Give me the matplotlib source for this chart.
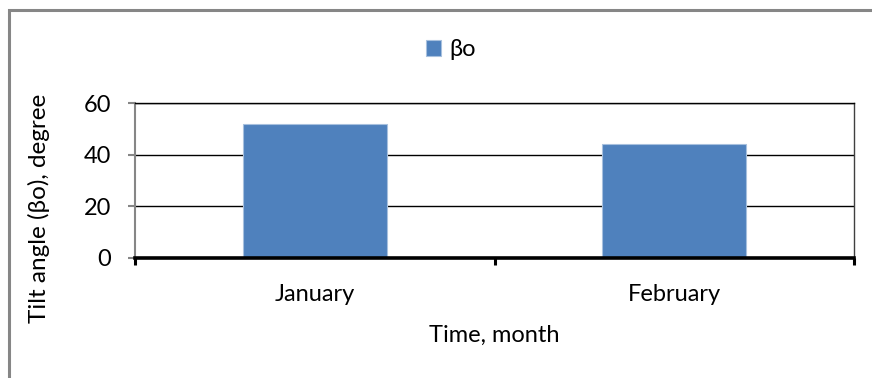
import matplotlib
matplotlib.use("Agg")
import matplotlib.pyplot as plt
from matplotlib.patches import Rectangle
from matplotlib.ticker import FixedLocator, NullFormatter

months = ["January", "February"]
tilt_angle = [52.1, 44.1]
y_ticks = [0, 20, 40, 60]

plt.rcParams["font.family"] = ["Lato", "DejaVu Sans"]

W, H = 872, 378
fig = plt.figure(figsize=(W / 100, H / 100), dpi=100)
ax = fig.add_axes([135 / W, 1 - 258 / H, (854 - 135) / W, (258 - 103.3) / H])

# outer chart frame
fig.patches.append(Rectangle((9 / W, -0.1), 1.2, 1 - 10 / H + 0.1,
                             transform=fig.transFigure, fill=False,
                             edgecolor="#868686", linewidth=2.2))

x = range(len(months))
ax.bar(x, tilt_angle, width=0.4, color="#4F81BD", edgecolor="#A7C0DE",
       linewidth=0.8, label="βo", zorder=3)

ax.set_xlim(-0.5, len(months) - 0.5)
ax.set_ylim(0, 60)
ax.set_yticks(y_ticks)
ax.grid(axis="y", color="black", linewidth=1.0, zorder=1)

# category boundaries carry the ticks, centres carry the labels
ax.xaxis.set_major_locator(FixedLocator([-0.5, 0.5, 1.5]))
ax.xaxis.set_major_formatter(NullFormatter())
ax.xaxis.set_minor_locator(FixedLocator(list(x)))
ax.set_xticklabels(months, minor=True)
ax.tick_params(axis="x", which="major", direction="out", length=5,
               width=2.2, color="black")
ax.tick_params(axis="x", which="minor", length=0, pad=19, labelsize=17)
ax.tick_params(axis="y", direction="out", length=5, width=1.5,
               color="#868686", pad=12, labelsize=17)

ax.spines["left"].set_color("#868686")
ax.spines["left"].set_linewidth(1.5)
ax.spines["bottom"].set_color("black")
ax.spines["bottom"].set_linewidth(2.6)
ax.spines["bottom"].set_zorder(4)
ax.spines["right"].set_color("#404040")
ax.spines["right"].set_linewidth(1.0)
ax.spines["top"].set_color("black")
ax.spines["top"].set_linewidth(1.0)

ax.set_xlabel("Time, month", fontsize=17, labelpad=14)
ax.set_ylabel("Tilt angle (βo), degree", fontsize=17.5)
ax.yaxis.set_label_coords(-85 / (854 - 135), 0.32)

ax.legend(loc="center", bbox_to_anchor=(451 / W, 1 - 50 / H),
          bbox_transform=fig.transFigure, frameon=False, fontsize=17,
          handlelength=0.65, handleheight=0.65, handletextpad=0.35)

fig.savefig("out.png", dpi=100, facecolor="white")
